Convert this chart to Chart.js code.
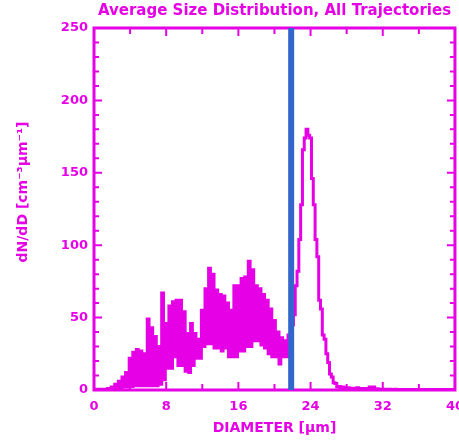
<!DOCTYPE html>
<html>
<head>
<meta charset="utf-8">
<script src="https://cdn.jsdelivr.net/npm/chart.js@4.4.1/dist/chart.umd.min.js"></script>
<style>
  html, body { margin: 0; padding: 0; background: #fff; overflow: hidden; }
  #wrap { width: 473px; height: 442px; }
</style>
</head>
<body>
<div id="wrap"><canvas id="chart" width="473" height="442"></canvas></div>
<script>
// diameter grid: 0 .. 40 um, one value every 0.2 um
const diameterStart = 0;
const diameterStep = 0.2;

// dN/dD (noisy part alternates between high and low samples)
const dndd = [
  0.5, 0.3, 0.5, 0.3, 0.5, 0.3, 0.6, 0.4, 1, 0.5,
  2, 1, 4, 1, 6, 1.5, 9, 2, 12, 2,
  22, 2.5, 26, 3, 28, 3, 27, 3, 25, 3,
  49, 3, 43, 3, 37, 3, 30, 4, 67, 7,
  46, 15, 58, 15, 61, 23, 62, 17, 62, 17,
  54, 13, 39, 12, 46, 17, 39, 22, 35, 22,
  55, 30, 70, 32, 84, 32, 80, 29, 69, 29,
  66, 27, 65, 29, 60, 23, 55, 23, 72, 23,
  72, 27, 77, 27, 78, 30, 89, 30, 83, 34,
  72, 34, 70, 31, 66, 29, 62, 25, 56, 23,
  48, 23, 40, 18, 36, 23, 34, 23, 38, 30,
  45, 52, 72, 82, 104, 128, 166, 174, 180, 176,
  174, 146, 128, 104, 92, 62, 56, 38, 35, 25,
  19, 11, 9, 5, 4.5, 2, 2.5, 1.5, 2, 1.5,
  1.2, 1.5, 1, 1.2, 1, 1, 1.5, 1, 0.8, 1,
  0.8, 1, 0.7, 2, 0.8, 2, 0.7, 0.8, 0.6, 0.6,
  0.5, 0.5, 0.6, 0.4, 0.5, 0.4, 0.4, 0.5, 0.4, 0.3,
  0.4, 0.3, 0.3, 0.4, 0.3, 0.3, 0.3, 0.3, 0.3, 0.3,
  0.3, 0.3, 0.3, 0.3, 0.3, 0.3, 0.3, 0.3, 0.3, 0.3,
  0.3, 0.3, 0.3, 0.3, 0.3, 0.3, 0.3, 0.3, 0.3, 0.3,
  0.3
];

// vertical marker
const markerDiameter = 21.85;
const markerRange = [0, 250];

const xTicks = [0, 8, 16, 24, 32, 40];
const yTicks = [0, 50, 100, 150, 200, 250];

const magenta = '#e600e6';
const blue = '#3366cc';

let points = [];
for (let i = 0; i < dndd.length; i++) {
    points.push({ x: diameterStart + i * diameterStep, y: dndd[i] });
}

const framePlugin = {
    id: 'frame',
    beforeDatasetsDraw(chart) {
        const ctx = chart.ctx;
        const a = chart.chartArea;
        const x = chart.scales.x;
        const y = chart.scales.y;
        ctx.save();
        ctx.strokeStyle = magenta;
        ctx.lineWidth = 3;
        ctx.strokeRect(a.left, a.top, a.right - a.left, a.bottom - a.top);
        ctx.lineWidth = 2;
        ctx.beginPath();
        for (let v = 0; v <= 40; v += 4) {
            const px = x.getPixelForValue(v);
            const len = v % 8 === 0 ? 8 : 6;
            ctx.moveTo(px, a.bottom);
            ctx.lineTo(px, a.bottom - len);
            ctx.moveTo(px, a.top);
            ctx.lineTo(px, a.top + len);
        }
        for (let v = 0; v <= 250; v += 10) {
            const py = y.getPixelForValue(v);
            const len = v % 50 === 0 ? 8 : 5;
            ctx.moveTo(a.left, py);
            ctx.lineTo(a.left + len, py);
            ctx.moveTo(a.right, py);
            ctx.lineTo(a.right - len, py);
        }
        ctx.stroke();
        ctx.restore();
    },
    afterDraw(chart) {
        const ctx = chart.ctx;
        const a = chart.chartArea;
        const cx = (a.left + a.right) / 2;
        ctx.save();
        ctx.fillStyle = magenta;
        ctx.textAlign = 'center';
        ctx.textBaseline = 'middle';
        ctx.font = 'bold 15px "DejaVu Sans"';
        ctx.fillText('Average Size Distribution, All Trajectories', cx, 11);
        ctx.font = 'bold 14px "DejaVu Sans"';
        ctx.fillText('DIAMETER [μm]', cx, 428);
        ctx.translate(23, 192);
        ctx.rotate(-Math.PI / 2);
        ctx.fillText('dN/dD [cm⁻³μm⁻¹]', 0, 0);
        ctx.restore();
    }
};

const data = {
    datasets: [{
        data: [{ x: markerDiameter, y: markerRange[0] }, { x: markerDiameter, y: markerRange[1] }],
        borderColor: blue,
        borderWidth: 6,
        pointRadius: 0,
        order: 0,
    }, {
        data: points,
        borderColor: magenta,
        borderWidth: 3,
        pointRadius: 0,
        stepped: 'middle',
        order: 1,
    }],
};

const tickFont = { family: 'DejaVu Sans', weight: 'bold', size: 13 };

const config = {
    type: 'line',
    data: data,
    plugins: [framePlugin],
    options: {
        responsive: false,
        animation: false,
        layout: { padding: { left: 0, right: 0, top: 28, bottom: 0 } },
        plugins: {
            legend: { display: false },
            tooltip: { enabled: false },
        },
        scales: {
            x: {
                type: 'linear',
                min: 0,
                max: 40,
                afterFit: (s) => { s.height = 52; },
                afterBuildTicks: (s) => { s.ticks = xTicks.map(v => ({ value: v })); },
                grid: { display: false, drawTicks: false },
                border: { display: false },
                ticks: { color: magenta, font: tickFont, padding: 9, maxRotation: 0 },
            },
            y: {
                min: 0,
                max: 250,
                afterFit: (s) => { s.width = 94; },
                afterBuildTicks: (s) => { s.ticks = yTicks.map(v => ({ value: v })); },
                grid: { display: false, drawTicks: false },
                border: { display: false },
                ticks: { color: magenta, font: tickFont, padding: 6 },
            },
        },
    },
};

var ctx = document.getElementById('chart').getContext('2d');
new Chart(ctx, config);
</script>
</body>
</html>
